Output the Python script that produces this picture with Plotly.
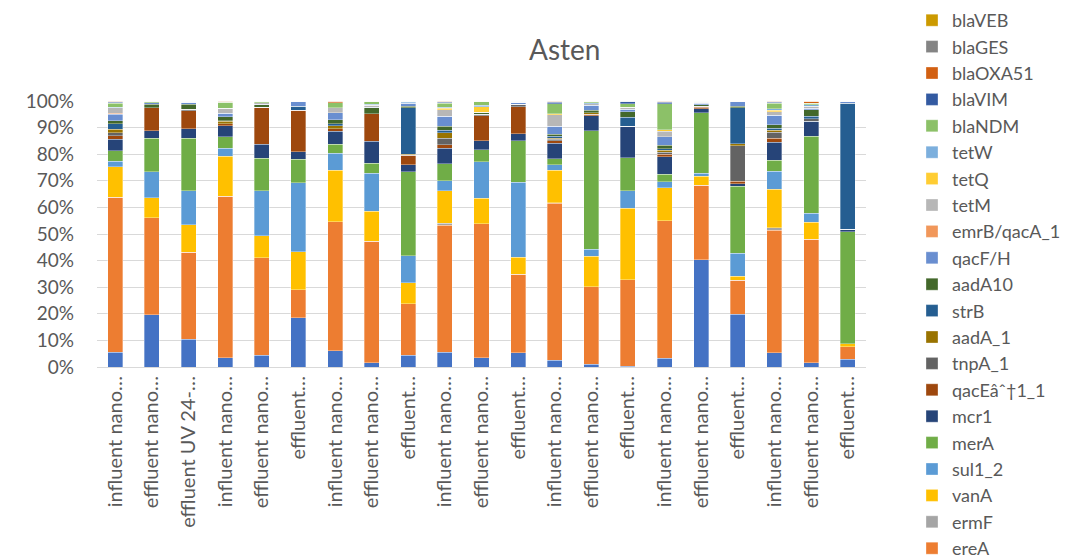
import plotly.graph_objects as go

# Sample labels (shortened as they appear on the axis)
categories = [
    "influent nano…", "effluent nano…", "effluent UV 24-…",
    "influent nano…", "effluent nano…", "effluent…",
    "influent nano…", "effluent nano…", "effluent…",
    "influent nano…", "effluent nano…", "effluent…",
    "influent nano…", "effluent nano…", "effluent…",
    "influent nano…", "effluent nano…", "effluent…",
    "influent nano…", "effluent nano…", "effluent…",
]

# Relative abundance of each gene per sample (%), bottom of stack first
unlisted = [5.6, 19.7, 10.5, 3.4, 4.5, 18.5, 6.1, 1.6, 4.5, 5.5, 3.4, 5.4, 2.5, 1.0, 0.2, 3.3, 40.4, 19.9, 5.4, 1.6, 2.9]
ereA = [58.4, 36.5, 32.5, 61.0, 36.6, 10.5, 48.5, 45.9, 19.3, 48.0, 50.5, 29.6, 59.3, 29.1, 32.7, 51.8, 28.1, 12.8, 46.1, 46.6, 4.8]
ermF = [0, 0, 0, 0, 0, 0, 0, 0, 0, 0.7, 0, 0, 0.2, 0, 0, 0, 0, 0, 0.9, 0, 0]
vanA = [11.5, 7.4, 10.3, 15.0, 8.3, 14.4, 19.4, 11.5, 7.9, 12.2, 9.6, 6.4, 12.3, 11.5, 26.9, 12.4, 3.4, 1.5, 14.5, 6.4, 1.0]
sul1_2 = [2.0, 9.9, 12.8, 3.0, 16.9, 25.8, 6.5, 14.2, 10.0, 3.8, 13.7, 28.3, 2.1, 2.5, 6.6, 2.3, 1.0, 8.6, 6.9, 3.4, 0]
merA = [4.0, 12.5, 19.8, 4.4, 12.2, 8.9, 3.3, 3.8, 31.7, 6.4, 4.6, 15.7, 2.3, 44.4, 12.5, 2.8, 22.8, 25.2, 4.0, 29.0, 42.2]
mcr1 = [4.4, 2.9, 3.4, 4.1, 5.3, 2.8, 4.9, 8.3, 2.6, 5.9, 3.4, 2.5, 5.9, 5.6, 11.8, 6.6, 1.6, 1.0, 6.9, 5.5, 0.9]
qacE = [1.3, 8.6, 6.9, 0.9, 13.9, 15.7, 1.0, 10.4, 3.5, 1.3, 9.3, 10.3, 0.8, 0.6, 0, 0.9, 0.5, 0.9, 1.5, 0, 0]
tnpA_1 = [1.2, 0, 0.6, 0, 0, 0, 0, 0, 0, 2.5, 0.6, 0.8, 0.6, 0, 0, 0.8, 0.4, 13.3, 2.3, 1.0, 0]
aadA_1 = [1.2, 0, 0, 0.8, 0, 0, 1.0, 0, 0.4, 2.0, 0, 0, 0.5, 0.6, 0, 0.8, 0, 0.9, 0.6, 0, 0]
strB = [2.1, 0, 0, 0.3, 0, 1.5, 0.9, 0, 17.5, 0.9, 0, 0, 0.6, 0, 3.5, 0.6, 0, 13.5, 0.9, 0.9, 47.6]
aadA10 = [1.2, 1.4, 1.8, 1.5, 0.9, 0, 1.5, 2.3, 0.6, 1.5, 0.7, 0, 0.8, 0.9, 2.1, 1.3, 0.6, 0.5, 1.3, 2.5, 0]
qacF_H = [2.5, 0.6, 0.7, 1.3, 0.3, 1.9, 2.5, 0.3, 1.0, 3.8, 0, 0.9, 3.0, 1.9, 0.8, 3.1, 0.5, 2.0, 3.5, 0.5, 0.8]
emrB_qacA_1 = [0.3, 0, 0, 0, 0, 0, 0, 0, 0, 0, 0, 0, 0, 0, 0, 0, 0, 0, 0, 0, 0]
tetM = [2.0, 0, 0, 1.9, 0.6, 0, 2.0, 0.7, 0.3, 2.5, 0, 0, 4.4, 0.5, 0.9, 2.1, 0.5, 0, 1.3, 0.9, 0]
tetQ = [0, 0, 0, 0, 0, 0, 0, 0, 0, 0.6, 2.1, 0, 0.4, 0, 0, 0.5, 0, 0, 0.6, 0, 0]
tetW = [0.3, 0, 0.3, 0, 0, 0, 0, 0.3, 0.3, 0.4, 0.6, 0, 0, 0.5, 0, 0, 0, 0, 0.6, 0.5, 0]
blaNDM = [1.5, 0.6, 0.2, 2.3, 0.6, 0, 1.9, 1.3, 0.3, 1.5, 1.6, 0.4, 3.8, 0.6, 1.3, 9.9, 0.4, 0, 2.1, 0.6, 0]
blaVIM = [0.4, 0, 0, 0, 0, 0, 0, 0, 0, 0.4, 0, 0, 0.6, 0, 1.0, 0.6, 0, 0, 0.4, 0, 0]
blaOXA51 = [0.4, 0, 0, 0.4, 0, 0, 0.6, 0, 0, 0.4, 0, 0, 0.4, 0, 0, 0.4, 0, 0, 0.4, 0.8, 0]
blaGES = [0] * 21
blaVEB = [0] * 21

series = [
    ("unlisted", unlisted, "#4472C4", False),
    ("ereA", ereA, "#ED7D31", True),
    ("ermF", ermF, "#A5A5A5", True),
    ("vanA", vanA, "#FFC000", True),
    ("sul1_2", sul1_2, "#5B9BD5", True),
    ("merA", merA, "#70AD47", True),
    ("mcr1", mcr1, "#264478", True),
    ("qacEâˆ†1_1", qacE, "#9E480E", True),
    ("tnpA_1", tnpA_1, "#636363", True),
    ("aadA_1", aadA_1, "#997300", True),
    ("strB", strB, "#255E91", True),
    ("aadA10", aadA10, "#43682B", True),
    ("qacF/H", qacF_H, "#698ED0", True),
    ("emrB/qacA_1", emrB_qacA_1, "#F1975A", True),
    ("tetM", tetM, "#B7B7B7", True),
    ("tetQ", tetQ, "#FFCD33", True),
    ("tetW", tetW, "#7CAFDD", True),
    ("blaNDM", blaNDM, "#8CC168", True),
    ("blaVIM", blaVIM, "#335AA1", True),
    ("blaOXA51", blaOXA51, "#D26012", True),
    ("blaGES", blaGES, "#848484", True),
    ("blaVEB", blaVEB, "#CC9A00", True),
]

x_pos = list(range(len(categories)))

fig = go.Figure()
for name, vals, color, show in series:
    fig.add_trace(go.Bar(
        x=x_pos, y=vals, name=name, showlegend=show,
        marker=dict(color=color, line=dict(color="rgba(255,255,255,0.55)", width=0.6)),
    ))

FONT = "Lato, 'Open Sans', sans-serif"
TXT = "#595959"

fig.update_layout(
    width=1088, height=559,
    barmode="stack", barnorm="percent", bargap=0.59,
    paper_bgcolor="white", plot_bgcolor="white",
    margin=dict(l=97, r=222, t=101, b=192),
    font=dict(family=FONT, color=TXT, size=19),
    title=dict(text="Asten", x=0.519, xref="container", xanchor="center",
               y=1 - 50 / 559, yref="container", yanchor="middle",
               font=dict(family=FONT, size=28, color=TXT)),
    legend=dict(
        traceorder="reversed", xref="container", yref="container",
        x=912 / 1088, y=1 - 2 / 559, xanchor="left", yanchor="top",
        font=dict(family=FONT, size=18, color=TXT),
        itemwidth=30, tracegroupgap=0, bgcolor="rgba(0,0,0,0)",
        maxheight=700,
    ),
    xaxis=dict(
        tickmode="array", tickvals=x_pos, ticktext=categories,
        tickangle=-90, range=[-0.5, len(categories) - 0.5],
        showgrid=False, showline=True, linecolor="#D9D9D9", linewidth=1,
        ticks="", tickfont=dict(family=FONT, size=20, color=TXT),
    ),
    yaxis=dict(
        range=[0, 100], dtick=10, ticksuffix="%",
        showgrid=True, gridcolor="#D9D9D9", gridwidth=1.3,
        zeroline=False, showline=False, ticks="", ticklabelstandoff=22,
        tickfont=dict(family=FONT, size=19, color=TXT),
    ),
)

fig.write_html("out.html")
